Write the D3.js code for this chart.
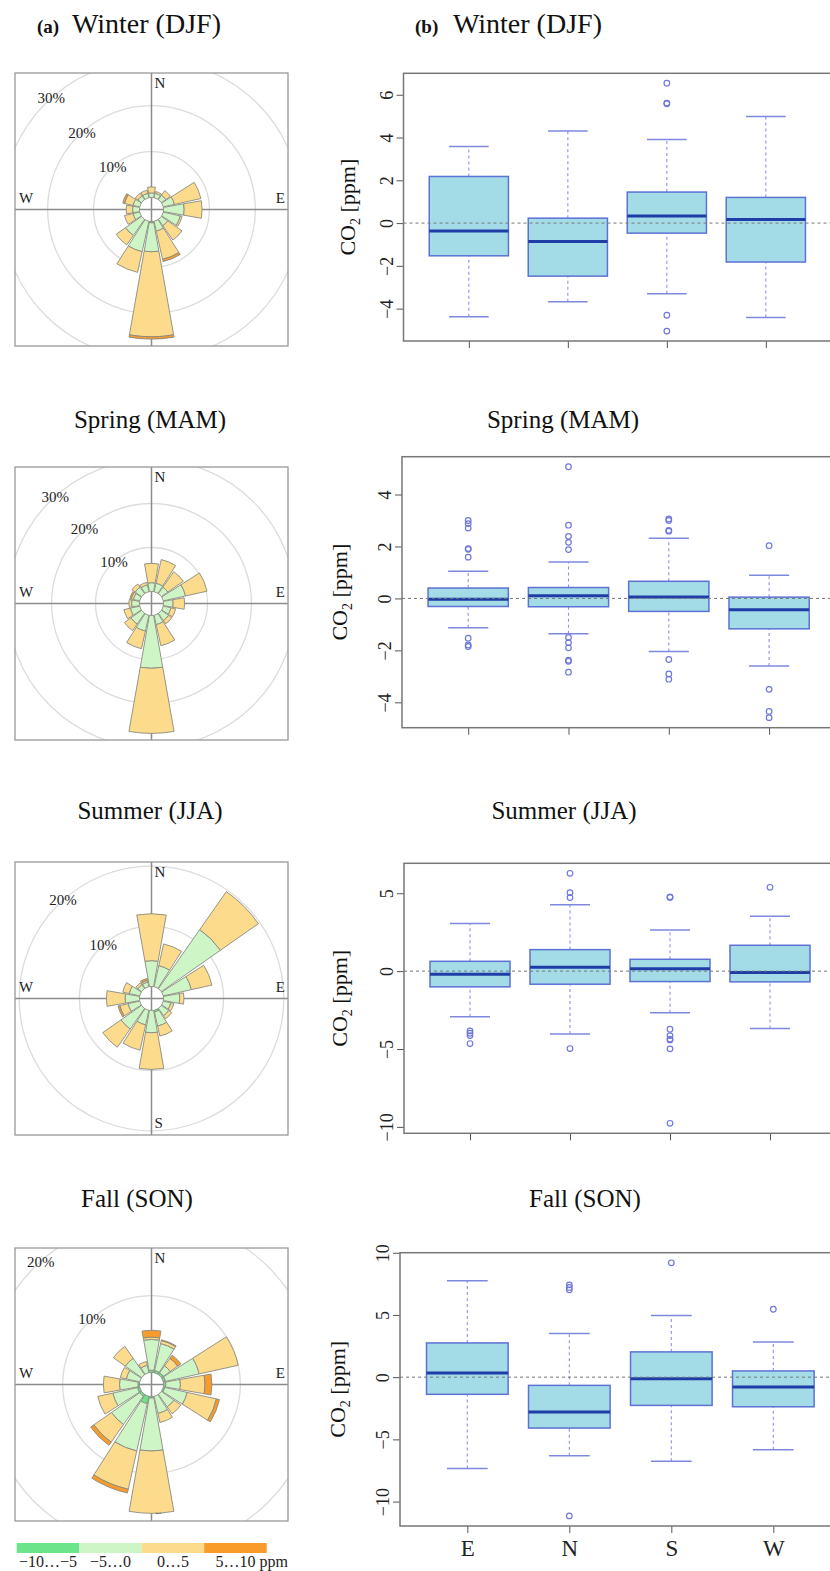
<!DOCTYPE html>
<html>
<head>
<meta charset="utf-8">
<script src="https://cdn.jsdelivr.net/npm/d3@7"></script>
<style>
  body { margin: 0; background: #fff; }
  svg { display: block; font-family: "Liberation Serif", "Times New Roman", serif; }
  svg text { font-family: "Liberation Serif", "Times New Roman", serif; }
</style>
</head>
<body>
<svg id="chart" width="830" height="1571"></svg>
<script>
// wind sectors, clockwise from north
const sectors = ["N", "NNE", "NE", "ENE", "E", "ESE", "SE", "SSE",
                 "S", "SSW", "SW", "WSW", "W", "WNW", "NW", "NNW"];
const bandLabels = ["−10…−5", "−5…0", "0…5", "5…10"];
const bandColors = ["#6be48a", "#cdf5c6", "#fddb8c", "#f99b2b"];

// frequency (%) per sector, split in CO2 bands [-10..-5, -5..0, 0..5, 5..10]
const roseWinter = [
    [0, 1.0, 1.3, 0], [0, 1.0, 0.4, 0], [0, 1.2, 1.2, 0], [0, 2.5, 5.9, 0],
    [0, 4.5, 3.9, 0], [0, 3.8, 0.4, 0], [0, 1.7, 3.8, 0], [0, 2.2, 6.3, 0.5],
    [0.3, 6.3, 18.5, 0.5], [0, 6.8, 4.6, 0], [0, 4.3, 2.5, 0], [0, 1.5, 1.9, 0],
    [0, 1.5, 1.4, 0], [0, 1.5, 1.9, 0.4], [0, 1.0, 0.7, 0], [0, 1.0, 0.7, 0]
];
const roseSpring = [
    [0, 2.0, 4.4, 0], [0, 2.0, 5.5, 0], [0, 1.8, 4.3, 0], [0, 5.2, 5.0, 0],
    [0, 2.2, 2.6, 0], [0, 1.8, 1.1, 0], [0, 2.0, 0.9, 0], [0, 2.2, 4.9, 0],
    [0, 12.0, 14.8, 0], [0, 3.7, 4.1, 0], [0, 3.0, 1.8, 0], [0, 2.2, 1.5, 0],
    [0, 1.8, 0.6, 0], [0, 1.5, 0.5, 0.3], [0, 1.8, 0.9, 0], [0, 1.6, 0.6, 0]
];
const roseSummer = [
    [0, 4.3, 7.8, 0], [0, 3.6, 3.7, 0], [0, 12.0, 7.7, 0], [0, 4.8, 3.5, 0],
    [0, 2.7, 0.7, 0], [0, 1.3, 0.5, 0], [0, 1.5, 0.6, 0], [0.3, 2.4, 1.7, 0],
    [0, 3.7, 6.1, 0], [0, 2.5, 4.3, 0], [0, 4.2, 3.7, 0], [0, 2.0, 1.4, 0.3],
    [0, 2.4, 3.1, 0], [0, 1.8, 1.1, 0], [0, 0.8, 0.4, 0], [0, 0.8, 0.3, 0.3]
];
const roseFall = [
    [0.3, 4.0, 0.3, 0.9], [0.3, 3.6, 0.4, 0.1], [0.3, 1.1, 1.2, 0.5], [0.3, 4.5, 5.2, 0],
    [0.3, 1.9, 3.2, 0.9], [0.2, 3.0, 3.9, 0.4], [0, 2.0, 1.1, 0], [0, 2.3, 1.2, 0],
    [0.2, 6.9, 8.1, 0], [1.0, 6.3, 5.1, 0.5], [0.3, 4.5, 2.8, 0.5], [0.3, 3.3, 2.0, 0],
    [0.2, 2.4, 2.1, 0], [0, 1.8, 0.8, 0], [0, 2.6, 1.9, 0], [0, 1.0, 0.5, 0]
];
const roseRings = [[10, 20, 30], [10, 20, 30], [10, 20], [10, 20]];
// % reached at the edge of each rose panel
const roseEdge = [27.1, 28.3, 20.7, 16.2];

const seasons = ["Winter (DJF)", "Spring (MAM)", "Summer (JJA)", "Fall (SON)"];
const boxDirs = ["E", "N", "S", "W"];

// [lower whisker, Q1, median, Q3, upper whisker] for E, N, S, W
const boxWinter = [
    [-4.38, -1.53, -0.37, 2.18, 3.58], [-3.68, -2.48, -0.86, 0.23, 4.31],
    [-3.30, -0.47, 0.33, 1.45, 3.91], [-4.42, -1.82, 0.17, 1.20, 4.98]
];
const outWinter = [[], [], [6.54, 5.61, 5.58, -4.31, -5.05], []];

const boxSpring = [
    [-1.13, -0.31, -0.03, 0.40, 1.05], [-1.36, -0.32, 0.10, 0.42, 1.40],
    [-2.04, -0.50, 0.06, 0.66, 2.32], [-2.60, -1.17, -0.44, 0.05, 0.89]
];
const outSpring = [
    [3.0, 2.88, 2.71, 1.92, 1.89, 1.59, -1.53, -1.79, -1.85],
    [5.07, 2.82, 2.39, 2.16, 1.88, -1.50, -1.70, -1.90, -2.38, -2.42, -2.84],
    [3.06, 3.0, 2.62, 2.59, -2.35, -2.91, -3.11],
    [2.03, -3.50, -4.35, -4.59]
];

const boxSummer = [
    [-2.93, -1.01, -0.20, 0.63, 3.06], [-4.03, -0.84, 0.25, 1.38, 4.26],
    [-2.67, -0.67, 0.16, 0.76, 2.64], [-3.69, -0.69, -0.09, 1.66, 3.53]
];
const outSummer = [
    [-3.84, -3.99, -4.14, -4.65],
    [6.28, 5.04, 4.72, -4.97],
    [4.77, 4.73, -3.73, -4.14, -4.36, -4.42, -4.99, -9.77],
    [5.38]
];

const boxFall = [
    [-7.34, -1.38, 0.34, 2.75, 7.74], [-6.32, -4.09, -2.81, -0.66, 3.50],
    [-6.75, -2.27, -0.12, 2.03, 4.95], [-5.84, -2.38, -0.79, 0.50, 2.83]
];
const outFall = [[], [7.42, 7.21, 7.02, -11.15], [9.19], [5.46]];

const boxTicks = [[-4, -2, 0, 2, 4, 6], [-4, -2, 0, 2, 4], [-10, -5, 0, 5], [-10, -5, 0, 5, 10]];

const roses = [roseWinter, roseSpring, roseSummer, roseFall];
const boxes = [boxWinter, boxSpring, boxSummer, boxFall];
const outliers = [outWinter, outSpring, outSummer, outFall];

// ---- layout ----
const roseX = 15;
const roseSize = 273;
const roseTops = [73, 467, 862, 1248];
const hole = 12;
const boxPanels = [
    {left: 403.5, step: 99, top: 73.3, bottom: 341, label: 355},
    {left: 402, step: 100.3, top: 456.7, bottom: 727.7, label: 347},
    {left: 404, step: 100, top: 863.3, bottom: 1133.3, label: 347},
    {left: 400, step: 102, top: 1252.7, bottom: 1526, label: 345}
];
const titleY = [33, 428, 819, 1207];
const leftTitleX = [0, 150, 150, 137];
const rightTitleX = [0, 563, 564, 585];
const serif = "'Liberation Serif', 'Times New Roman', serif";

const svg = d3.select("#chart");

/**
 * Draws one wind rose panel.
 */
function drawRose(si) {
    const half = roseSize / 2;
    const top = roseTops[si];
    const g = svg.append("g")
        .attr("transform", `translate(${roseX + half},${top + half})`);

    let r = d3.scaleLinear()
        .domain([0, roseEdge[si]])
        .range([hole, half]);

    g.append("clipPath")
        .attr("id", "roseClip" + si)
        .append("rect")
        .attr("x", -half).attr("y", -half)
        .attr("width", roseSize).attr("height", roseSize);

    g.append("g")
        .attr("clip-path", `url(#roseClip${si})`)
        .selectAll("circle")
        .data(roseRings[si])
        .join("circle")
        .attr("r", d => r(d))
        .attr("fill", "none")
        .attr("stroke", "#dcdcdc")
        .attr("stroke-width", 1.3);

    // compass cross
    g.append("line")
        .attr("x1", -half).attr("x2", half)
        .attr("stroke", "#8c8c8c").attr("stroke-width", 1.5);
    g.append("line")
        .attr("y1", -half).attr("y2", half)
        .attr("stroke", "#8c8c8c").attr("stroke-width", 1.5);

    const lab = g.append("g").attr("font-size", 15).attr("fill", "#222");
    lab.append("text").attr("x", 3).attr("y", -half + 15).text("N");
    lab.append("text").attr("x", 3).attr("y", half - 7).text("S");
    lab.append("text").attr("x", -half + 4).attr("y", -7).text("W");
    lab.append("text").attr("x", half - 3).attr("y", -7)
        .attr("text-anchor", "end").text("E");

    // ring labels sit towards the north-west
    let a = 318 * Math.PI / 180;
    lab.selectAll(".ringLabel")
        .data(roseRings[si])
        .join("text")
        .attr("class", "ringLabel")
        .attr("x", d => r(d) * Math.sin(a))
        .attr("y", d => -r(d) * Math.cos(a))
        .attr("dy", "0.35em")
        .attr("text-anchor", "middle")
        .text(d => d + "%");

    // stacked sectors
    let segs = [];
    roses[si].forEach((row, i) => {
        let cum = 0;
        row.forEach((v, b) => {
            if (v > 0) {
                segs.push({dir: i * 22.5, from: cum, to: cum + v, band: b});
            }
            cum += v;
        });
    });

    const arc = d3.arc();
    g.selectAll(".seg")
        .data(segs)
        .join("path")
        .attr("class", "seg")
        .attr("d", d => arc({
            innerRadius: r(d.from),
            outerRadius: r(d.to),
            startAngle: (d.dir - 10) * Math.PI / 180,
            endAngle: (d.dir + 10) * Math.PI / 180
        }))
        .attr("fill", d => bandColors[d.band])
        .attr("stroke", "#8a8a80")
        .attr("stroke-width", 0.9);

    g.append("rect")
        .attr("x", -half).attr("y", -half)
        .attr("width", roseSize).attr("height", roseSize)
        .attr("fill", "none")
        .attr("stroke", "#999")
        .attr("stroke-width", 1.3);
}

/**
 * Draws one box plot panel.
 */
function drawBoxes(si) {
    const p = boxPanels[si];
    const stats = boxes[si];
    const outs = outliers[si];

    let all = stats.flat().concat(outs.flat());
    let [mn, mx] = d3.extent(all);
    let pad = (mx - mn) * 0.04;

    let y = d3.scaleLinear()
        .domain([mn - pad, mx + pad])
        .range([p.bottom, p.top]);
    let x = d3.scaleLinear()
        .domain([0.34, 4.66])
        .range([p.left, p.left + 4.32 * p.step]);

    const g = svg.append("g");

    // y axis, labels rotated like R's default
    let yAxis = g.append("g")
        .attr("transform", `translate(${p.left},0)`)
        .call(d3.axisLeft(y).tickValues(boxTicks[si]).tickSize(7).tickSizeOuter(0));
    yAxis.attr("font-family", null).attr("font-size", null);
    yAxis.select(".domain").remove();
    yAxis.selectAll("line").attr("stroke", "#555");
    yAxis.selectAll("text")
        .attr("transform", "rotate(-90)")
        .attr("x", 0)
        .attr("y", -11)
        .attr("dy", 0)
        .attr("text-anchor", "middle")
        .style("font-size", "18px")
        .style("font-family", serif)
        .attr("fill", "#222");

    // x ticks at the bottom
    let xAxis = g.append("g")
        .attr("transform", `translate(0,${p.bottom})`)
        .call(d3.axisBottom(x).tickValues([1, 2, 3, 4]).tickSize(7).tickSizeOuter(0)
            .tickFormat((d, i) => si === 3 ? boxDirs[i] : ""));
    xAxis.attr("font-family", null).attr("font-size", null);
    xAxis.select(".domain").remove();
    xAxis.selectAll("line").attr("stroke", "#555");
    xAxis.selectAll("text")
        .style("font-size", "23px")
        .style("font-family", serif)
        .attr("fill", "#222")
        .attr("y", 14);

    // y label
    let ty = g.append("text")
        .attr("transform", `translate(${p.label},${(p.top + p.bottom) / 2}) rotate(-90)`)
        .attr("text-anchor", "middle")
        .attr("font-size", 22)
        .attr("fill", "#111");
    ty.append("tspan").text("CO");
    ty.append("tspan").attr("font-size", 14).attr("dy", 5).text("2");
    ty.append("tspan").attr("dy", -5).text(" [ppm]");

    const boxW = 0.4;
    const capW = 0.2;

    let bx = g.selectAll(".bx")
        .data(stats)
        .join("g")
        .attr("class", "bx");

    // whiskers
    bx.append("line")
        .attr("x1", (d, i) => x(i + 1)).attr("x2", (d, i) => x(i + 1))
        .attr("y1", d => y(d[0])).attr("y2", d => y(d[1]))
        .attr("stroke", "#8d92e3").attr("stroke-width", 1.1)
        .attr("stroke-dasharray", "3,3");
    bx.append("line")
        .attr("x1", (d, i) => x(i + 1)).attr("x2", (d, i) => x(i + 1))
        .attr("y1", d => y(d[3])).attr("y2", d => y(d[4]))
        .attr("stroke", "#8d92e3").attr("stroke-width", 1.1)
        .attr("stroke-dasharray", "3,3");
    // caps
    [0, 4].forEach(k => {
        bx.append("line")
            .attr("x1", (d, i) => x(i + 1 - capW)).attr("x2", (d, i) => x(i + 1 + capW))
            .attr("y1", d => y(d[k])).attr("y2", d => y(d[k]))
            .attr("stroke", "#7f88e0").attr("stroke-width", 1.5);
    });
    // box
    bx.append("rect")
        .attr("x", (d, i) => x(i + 1 - boxW))
        .attr("width", x(1 + boxW) - x(1 - boxW))
        .attr("y", d => y(d[3]))
        .attr("height", d => y(d[1]) - y(d[3]))
        .attr("fill", "#a3dbe6")
        .attr("stroke", "#5c72d4")
        .attr("stroke-width", 1.5);

    // zero reference line
    g.append("line")
        .attr("x1", p.left).attr("x2", 830)
        .attr("y1", y(0)).attr("y2", y(0))
        .attr("stroke", "#777")
        .attr("stroke-width", 1)
        .attr("stroke-dasharray", "3,3");

    // median
    bx.append("line")
        .attr("x1", (d, i) => x(i + 1 - boxW)).attr("x2", (d, i) => x(i + 1 + boxW))
        .attr("y1", d => y(d[2])).attr("y2", d => y(d[2]))
        .attr("stroke", "#1f3da6").attr("stroke-width", 3);

    // outliers
    let pts = [];
    outs.forEach((arr, i) => arr.forEach(v => pts.push({i: i, v: v})));
    g.selectAll(".out")
        .data(pts)
        .join("circle")
        .attr("class", "out")
        .attr("cx", d => x(d.i + 1))
        .attr("cy", d => y(d.v))
        .attr("r", 2.8)
        .attr("fill", "none")
        .attr("stroke", "#6f78db")
        .attr("stroke-width", 1.2);

    // frame
    g.append("rect")
        .attr("x", p.left).attr("y", p.top)
        .attr("width", 4.32 * p.step).attr("height", p.bottom - p.top)
        .attr("fill", "none")
        .attr("stroke", "#777")
        .attr("stroke-width", 1.5);
}

for (let i = 0; i < 4; i++) {
    drawRose(i);
    drawBoxes(i);
}

// titles
const titles = svg.append("g").attr("fill", "#111");
titles.append("text").attr("x", 37).attr("y", titleY[0])
    .attr("font-size", 19).attr("font-weight", "bold").text("(a)");
titles.append("text").attr("x", 72).attr("y", titleY[0])
    .attr("font-size", 28).text(seasons[0]);
titles.append("text").attr("x", 415).attr("y", titleY[0])
    .attr("font-size", 19).attr("font-weight", "bold").text("(b)");
titles.append("text").attr("x", 453).attr("y", titleY[0])
    .attr("font-size", 28).text(seasons[0]);
for (let i = 1; i < 4; i++) {
    titles.append("text").attr("x", leftTitleX[i]).attr("y", titleY[i])
        .attr("text-anchor", "middle").attr("font-size", 25).text(seasons[i]);
    titles.append("text").attr("x", rightTitleX[i]).attr("y", titleY[i])
        .attr("text-anchor", "middle").attr("font-size", 25).text(seasons[i]);
}

// colour key under the last rose
const keyX = d3.scaleBand().domain(d3.range(4)).range([16.7, 266.7]);
const key = svg.append("g");
key.selectAll("rect")
    .data(bandColors)
    .join("rect")
    .attr("x", (d, i) => keyX(i))
    .attr("y", 1543)
    .attr("width", keyX.bandwidth())
    .attr("height", 10)
    .attr("fill", d => d);
key.selectAll("text")
    .data(bandLabels)
    .join("text")
    .attr("x", (d, i) => keyX(i) + keyX.bandwidth() / 2)
    .attr("y", 1567)
    .attr("text-anchor", "middle")
    .attr("font-size", 16)
    .attr("fill", "#222")
    .text(d => d);
let lastLab = key.selectAll("text").filter((d, i) => i === 3).node();
let bb = lastLab.getBBox();
key.append("text")
    .attr("x", bb.x + bb.width + 4)
    .attr("y", 1567)
    .attr("font-size", 16)
    .attr("fill", "#222")
    .text("ppm");
</script>
</body>
</html>
